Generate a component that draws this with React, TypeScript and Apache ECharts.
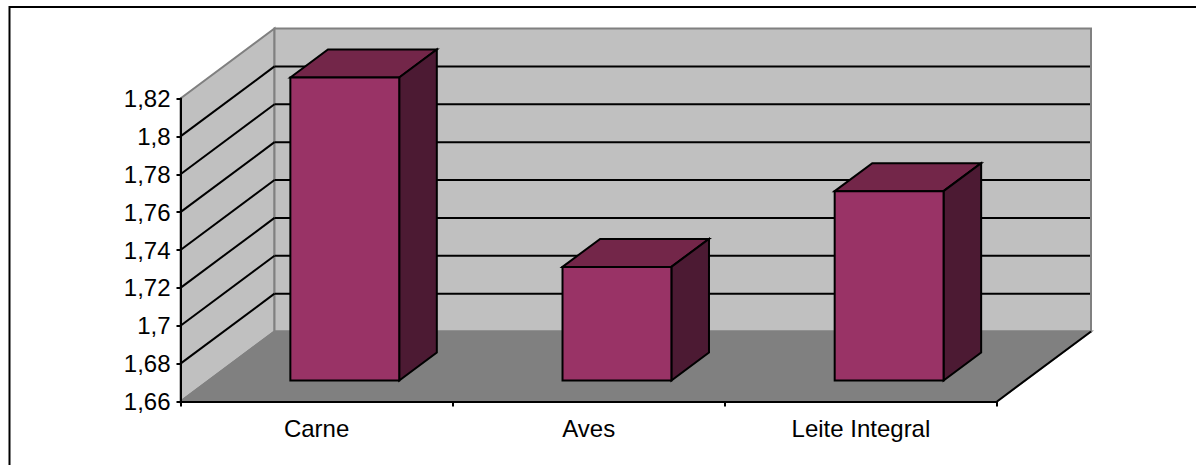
import { useEffect, useRef } from "react";
import * as echarts from "echarts";

const categories = ["Carne", "Aves", "Leite Integral"];
const values = [1.82, 1.72, 1.76];
const yTicks = [1.66, 1.68, 1.7, 1.72, 1.74, 1.76, 1.78, 1.8, 1.82];
const yTickLabels = ["1,66", "1,68", "1,7", "1,72", "1,74", "1,76", "1,78", "1,8", "1,82"];

const yMin = 1.66;
const yMax = 1.82;
const yStep = 0.02;

// Oblique projection of the depth axis, in pixels.
const DEPTH_X = 94;
const DEPTH_Y = -70;
const BAR_WIDTH_RATIO = 0.4;
const BAR_DEPTH_START = 0.3;
const BAR_DEPTH = 0.4;

const WALL = "#C0C0C0";
const WALL_EDGE = "#808080";
const FLOOR = "#808080";
const LINE = "#000000";
const BAR_FRONT = "#993366";
const BAR_TOP = "#732649";
const BAR_SIDE = "#4C1A33";

const poly = (points: number[][], fill: string, stroke: string, lineWidth = 2) => ({
  type: "polygon",
  shape: { points },
  style: { fill, stroke, lineWidth, lineJoin: "miter" },
});
const seg = (a: number[], b: number[], stroke: string, lineWidth = 2) => ({
  type: "line",
  shape: { x1: a[0], y1: a[1], x2: b[0], y2: b[1] },
  style: { stroke, lineWidth },
});

function renderWalls(_: any, api: any) {
  const [xL, yB] = api.coord([0, yMin]);
  const band = api.size([1, 0])[0];
  const left = xL - band / 2;
  const right = left + band * categories.length;
  const top = api.coord([0, yMax])[1];
  const back = (p: number[]) => [p[0] + DEPTH_X, p[1] + DEPTH_Y];

  const children: any[] = [
    poly([[left, yB], [left, top], back([left, top]), back([left, yB])], WALL, WALL_EDGE),
    poly([back([left, top]), back([right, top]), back([right, yB]), back([left, yB])], WALL, WALL_EDGE),
    poly([[left, yB], back([left, yB]), back([right, yB]), [right, yB]], FLOOR, WALL_EDGE),
  ];
  yTicks.slice(1, -1).forEach((t) => {
    const y = api.coord([0, t])[1];
    children.push(seg([left, y], back([left, y]), LINE));
    children.push(seg(back([left, y]), back([right - 1, y]), LINE));
  });
  children.push(seg([right, yB], back([right, yB]), LINE));
  return { type: "group", children };
}

function renderBar(_: any, api: any) {
  const cat = api.value(0);
  const [cx, yBase] = api.coord([cat, yMin]);
  const yTop = api.coord([cat, api.value(1)])[1];
  const band = api.size([1, 0])[0];
  const w = band * BAR_WIDTH_RATIO;
  const ox = DEPTH_X * BAR_DEPTH_START;
  const oy = DEPTH_Y * BAR_DEPTH_START;
  const dx = DEPTH_X * BAR_DEPTH;
  const dy = DEPTH_Y * BAR_DEPTH;
  const x0 = cx - w / 2 + ox;
  const x1 = cx + w / 2 + ox;
  const t = yTop + oy;
  const b = yBase + oy;
  return {
    type: "group",
    children: [
      poly([[x0, t], [x0 + dx, t + dy], [x1 + dx, t + dy], [x1, t]], BAR_TOP, LINE),
      poly([[x1, t], [x1 + dx, t + dy], [x1 + dx, b + dy], [x1, b]], BAR_SIDE, LINE),
      poly([[x0, t], [x1, t], [x1, b], [x0, b]], BAR_FRONT, LINE),
    ],
  };
}

export default function App() {
  const ref = useRef<HTMLDivElement>(null);

  useEffect(() => {
    document.body.style.margin = "0";
    const chart = echarts.init(ref.current!, null, { renderer: "svg" });
    chart.setOption({
      animation: false,
      backgroundColor: "#ffffff",
      textStyle: { fontFamily: "'Liberation Sans', Arial, sans-serif" },
      grid: { left: 180.5, top: 98.5, width: 816.5, height: 303, containLabel: false },
      xAxis: {
        type: "category",
        data: categories,
        boundaryGap: true,
        axisLine: { show: true, onZero: false, lineStyle: { color: LINE, width: 2 } },
        axisTick: { show: true, length: 5, lineStyle: { color: LINE, width: 2 } },
        axisLabel: { color: "#000000", fontSize: 24, margin: 15 },
        splitLine: { show: false },
        z: 5,
      },
      yAxis: {
        type: "value",
        min: yMin,
        max: yMax,
        interval: yStep,
        axisLine: { show: true, onZero: false, lineStyle: { color: LINE, width: 2 } },
        axisTick: { show: true, length: 4, lineStyle: { color: LINE, width: 2 } },
        axisLabel: {
          color: "#000000",
          fontSize: 24,
          margin: 10,
          formatter: (v: number) => yTickLabels[Math.round((v - yMin) / yStep)],
        },
        splitLine: { show: false },
        z: 5,
      },
      series: [
        {
          type: "custom",
          name: "walls",
          renderItem: renderWalls,
          data: [[0, yMin]],
          clip: false,
          silent: true,
          z: 1,
          encode: { x: 0, y: 1 },
        },
        {
          type: "custom",
          name: "bars",
          renderItem: renderBar,
          data: values.map((v, i) => [i, v]),
          clip: false,
          z: 2,
          encode: { x: 0, y: 1 },
        },
      ],
      graphic: [
        {
          type: "polyline",
          shape: { points: [[9.5, 465], [9.5, 7], [1196, 7]] },
          style: { fill: "none", stroke: "#000000", lineWidth: 2 },
        },
      ],
    });
    return () => chart.dispose();
  }, []);

  return <div ref={ref} style={{ width: 1196, height: 465 }} />;
}
